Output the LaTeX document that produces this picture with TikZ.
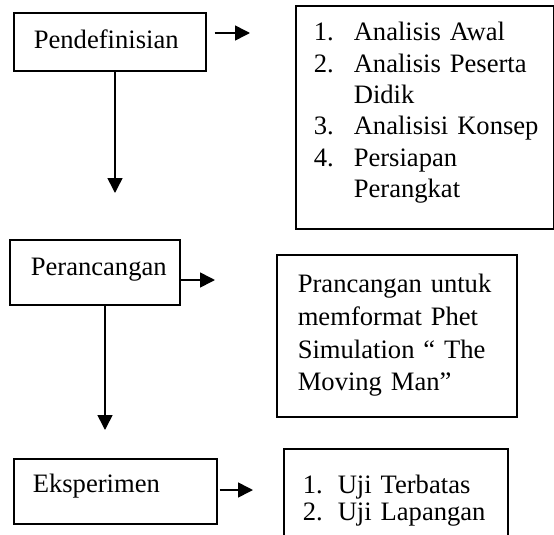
\documentclass[tikz,border=0pt]{standalone}
\usepackage{fontspec}
\setmainfont{Liberation Serif}
\usepackage{tikz}
\usetikzlibrary{arrows.meta,positioning}

\tikzset{
  box/.style={draw, line width=1.6pt, anchor=north west, inner ysep=0pt,
    inner xsep=0pt, align=left, font=\fontsize{26.6}{31.4}\selectfont},
  arr/.style={-{Triangle[length=15pt,width=15pt]}, line width=1.6pt}
}
\newcommand{\itm}[3][40pt]{\mbox{\makebox[#1][l]{#2}#3}}

\begin{document}
\begin{tikzpicture}[x=1pt, y=-1pt]
  \useasboundingbox (0,0) rectangle (554,535);
  \clip (0,0) rectangle (554,535);

  % stages on the left
  \node[box, text width=152pt, inner xsep=20pt, text height=36pt, text depth=22pt]
    (pend) at (13,12) {Pendefinisian};
  \node[box, text width=128pt, inner xsep=21pt, text height=36pt, text depth=29pt]
    (peran) at (9,239) {Perancangan};
  \node[box, text width=165pt, inner xsep=19pt, text height=34pt, text depth=31pt]
    (eksp) at (13,458) {Eksperimen};

  % descriptions on the right
  \node[box, text width=222pt, inner xsep=18pt, text height=35pt, text depth=188pt]
    (desc1) at (295,5) {\itm{1.}{Analisis Awal}\\
      \itm{2.}{Analisis Peserta}\\
      \itm{}{Didik}\\
      \itm{3.}{Analisisi Konsep}\\
      \itm{4.}{Persiapan}\\
      \itm{}{Perangkat}};
  \node[box, text width=198pt, inner xsep=21pt, text height=38pt, text depth=124pt,
    font=\fontsize{26.6}{32.7}\selectfont]
    (desc2) at (276,254) {Prancangan untuk\\
      memformat Phet\\
      Simulation “ The\\
      Moving Man”};
  \node[box, text width=186pt, inner xsep=19pt, text height=45pt, text depth=70pt,
    font=\fontsize{26.6}{27}\selectfont]
    (desc3) at (283,448) {\itm[35pt]{1.}{Uji Terbatas}\\
      \itm[35pt]{2.}{Uji Lapangan}};

  % arrow tips
  \coordinate (h1) at (250,33);
  \coordinate (h2) at (215,280);
  \coordinate (h3) at (253,490);
  \coordinate (v1) at (115,193);
  \coordinate (v2) at (105,430);

  \draw[arr, shorten <=8pt] (pend.east |- h1) -- (h1);
  \draw[arr] (peran.east |- h2) -- (h2);
  \draw[arr, shorten <=2pt] (eksp.east |- h3) -- (h3);
  \draw[arr] (pend.south -| v1) -- (v1);
  \draw[arr] (peran.south -| v2) -- (v2);
\end{tikzpicture}
\end{document}
